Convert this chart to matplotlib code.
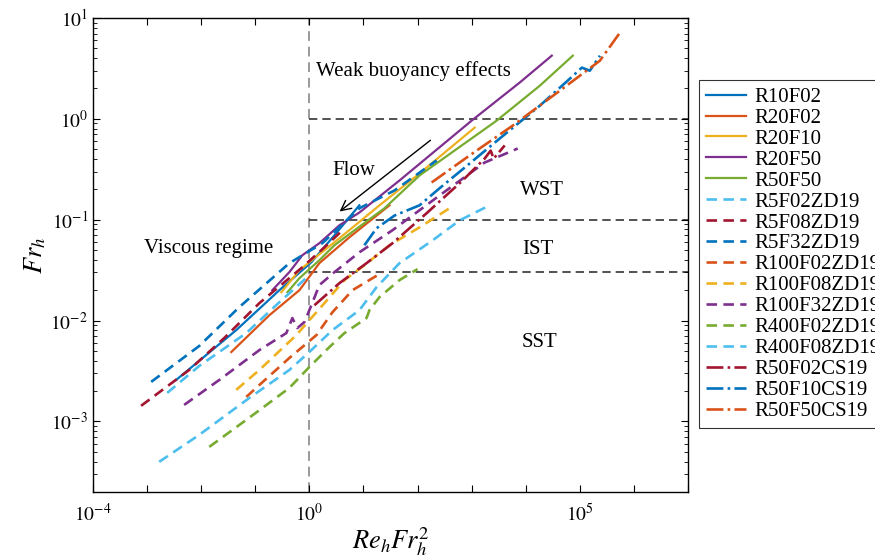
import matplotlib
matplotlib.use('Agg')
import matplotlib.pyplot as plt

plt.rcParams['font.family'] = ['Liberation Serif', 'DejaVu Serif']
plt.rcParams['mathtext.fontset'] = 'stix'

# MATLAB default colours
blue = '#0072BD'
orange = '#D95319'
yellow = '#EDB120'
purple = '#7E2F8E'
green = '#77AC30'
lblue = '#4DBEEE'
dred = '#A2142F'

# ---- data ----
r10f02_x = [3.44e-3, 4.45e-2, 0.278, 1.09, 2.9, 8.4]
r10f02_y = [2.58e-3, 8.05e-3, 2.0e-2, 3.79e-2, 7.0e-2, 0.139]

r20f02_x = [0.036, 0.182, 0.653, 1.53, 5.5, 30.3]
r20f02_y = [4.88e-3, 1.13e-2, 2.0e-2, 3.71e-2, 6.7e-2, 0.139]

r20f10_x = [0.303, 0.653, 3.59, 19.8, 109, 1136]
r20f10_y = [1.91e-2, 3.16e-2, 6.55e-2, 0.139, 0.288, 0.818]

r20f50_x = [0.206, 0.426, 0.742, 1.53, 3.59, 8.43, 46.4, 1000, 7740, 3.03e4]
r20f50_y = [2.0e-2, 3.02e-2, 4.45e-2, 5.85e-2, 8.8e-2, 0.118, 0.245, 0.96, 2.29, 4.23]

r50f50_x = [0.392, 0.653, 1.53, 2.90, 6.81, 24.5, 109, 2900, 1.82e4, 7.42e4]
r50f50_y = [1.91e-2, 2.63e-2, 3.97e-2, 5.58e-2, 7.85e-2, 0.13, 0.275, 0.96, 2.13, 4.23]

r5f02_x = [2.35e-3, 9.18e-3, 0.0681, 0.278, 1.0]
r5f02_y = [1.92e-3, 3.55e-3, 7.52e-3, 1.52e-2, 2.82e-2]

r5f08_x = [7.74e-4, 6.0e-3, 2.67e-2, 0.119, 0.742, 1.90, 4.45]
r5f08_y = [1.43e-3, 3.24e-3, 6.72e-3, 1.49e-2, 3.38e-2, 5.33e-2, 8.22e-2]

r5f32_x = [1.19e-3, 9.18e-3, 5.06e-2, 0.426, 1.74, 8.43, 37.5, 225]
r5f32_y = [2.47e-3, 5.6e-3, 1.36e-2, 3.71e-2, 5.85e-2, 0.13, 0.195, 0.387]

r100f02_x = [6.81e-2, 0.119, 0.426, 1.35, 2.67, 6.25, 22.5]
r100f02_y = [1.75e-3, 2.3e-3, 4.26e-3, 7.18e-3, 1.21e-2, 2.0e-2, 3.02e-2]

r100f08_x = [4.45e-2, 0.119, 0.574, 1.0, 1.90, 4.45, 10.4, 30.3, 109, 391]
r100f08_y = [2.06e-3, 3.24e-3, 7.18e-3, 1.01e-2, 1.49e-2, 2.52e-2, 3.54e-2, 5.58e-2, 8.41e-2, 0.13]

r100f32_x = [4.84e-3, 2.16e-2, 0.119, 0.375, 0.484, 0.6, 0.808, 1.09, 1.53, 2.9, 8.43, 34.4, 255, 1741, 7110]
r100f32_y = [1.46e-3, 2.58e-3, 5.1e-3, 7.52e-3, 1.06e-2, 8.43e-3, 9.66e-3, 1.42e-2, 2.25e-2, 3.02e-2,
             4.76e-2, 7.87e-2, 0.174, 0.369, 0.508]

r400f02_x = [1.41e-2, 7.74e-2, 0.426, 1.0, 2.35, 4.45, 11.4, 12.9, 19.8, 46.4, 100]
r400f02_y = [5.6e-4, 1.09e-3, 2.15e-3, 3.47e-3, 5.47e-3, 7.52e-3, 1.06e-2, 1.27e-2, 1.71e-2, 2.52e-2, 3.24e-2]

r400f08_x = [1.67e-3, 9.18e-3, 7.74e-2, 0.426, 1.0, 2.67, 8.43, 17.4, 46.4, 190, 600, 2154]
r400f08_y = [3.98e-4, 7.36e-4, 1.71e-3, 3.24e-3, 4.89e-3, 8.05e-3, 1.27e-2, 2.14e-2, 3.71e-2,
             6.25e-2, 9.86e-2, 0.139]

r50f02cs_x = [1.24, 3.59, 11.4, 34.4, 147, 681, 1741, 2249, 2553, 4084]
r50f02cs_y = [1.42e-2, 2.35e-2, 3.71e-2, 5.85e-2, 0.116, 0.245, 0.404, 0.484, 0.404, 0.545]

r50f10cs_x = [10.4, 17.4, 37.5, 109, 255, 918, 3300, 1.82e4, 6.53e4, 1.09e5, 1.53e5, 2.35e5]
r50f10cs_y = [5.58e-2, 8.22e-2, 0.11, 0.139, 0.205, 0.361, 0.638, 1.35, 2.5, 3.22, 3.0, 4.23]

r50f50cs_x = [182, 918, 5740, 4.26e4, 2.35e5, 5.5e5]
r50f50cs_y = [0.234, 0.434, 0.857, 1.9, 3.77, 7.14]

fig = plt.figure(figsize=(8.75, 5.58), dpi=100)
ax = fig.add_axes([0.1063, 0.1183, 0.68, 0.8495])

dash = (0, (4, 2.4))
lw_s = 1.6
lw_d = 1.9

ax.plot(r10f02_x, r10f02_y, color=blue, lw=lw_s, label='R10F02')
ax.plot(r20f02_x, r20f02_y, color=orange, lw=lw_s, label='R20F02')
ax.plot(r20f10_x, r20f10_y, color=yellow, lw=lw_s, label='R20F10')
ax.plot(r20f50_x, r20f50_y, color=purple, lw=lw_s, label='R20F50')
ax.plot(r50f50_x, r50f50_y, color=green, lw=lw_s, label='R50F50')
ax.plot(r5f02_x, r5f02_y, color=lblue, lw=lw_d, ls=dash, label='R5F02ZD19')
ax.plot(r5f08_x, r5f08_y, color=dred, lw=lw_d, ls=dash, label='R5F08ZD19')
ax.plot(r5f32_x, r5f32_y, color=blue, lw=lw_d, ls=dash, label='R5F32ZD19')
ax.plot(r100f02_x, r100f02_y, color=orange, lw=lw_d, ls=dash, label='R100F02ZD19')
ax.plot(r100f08_x, r100f08_y, color=yellow, lw=lw_d, ls=dash, label='R100F08ZD19')
ax.plot(r100f32_x, r100f32_y, color=purple, lw=lw_d, ls=dash, label='R100F32ZD19')
ax.plot(r400f02_x, r400f02_y, color=green, lw=lw_d, ls=dash, label='R400F02ZD19')
ax.plot(r400f08_x, r400f08_y, color=lblue, lw=lw_d, ls=dash, label='R400F08ZD19')
ax.plot(r50f02cs_x, r50f02cs_y, color=dred, lw=lw_d, ls='-.', label='R50F02CS19')
ax.plot(r50f10cs_x, r50f10cs_y, color=blue, lw=lw_d, ls='-.', label='R50F10CS19')
ax.plot(r50f50cs_x, r50f50cs_y, color=orange, lw=lw_d, ls='-.', label='R50F50CS19')

# regime boundaries
ax.axvline(1, color='#999999', lw=1.4, ls=(0, (5, 3)), zorder=0)
for yb in [1, 0.1, 0.03]:
    ax.plot([1, 1e7], [yb, yb], color='#333333', lw=1.2, ls=(0, (5, 3)), zorder=0)

ax.set_xscale('log')
ax.set_yscale('log')
ax.set_xlim(1e-4, 1e7)
ax.set_ylim(2e-4, 10)

xt = [10.0 ** k for k in range(-4, 8)]
ax.set_xticks(xt)
ax.set_xticklabels(['$10^{-4}$' if k == -4 else '$10^{0}$' if k == 0 else '$10^{5}$' if k == 5 else ''
                    for k in range(-4, 8)])
ax.xaxis.set_minor_locator(matplotlib.ticker.NullLocator())
ax.set_yticks([1e-3, 1e-2, 1e-1, 1, 10])
ax.set_yticklabels(['$10^{-3}$', '$10^{-2}$', '$10^{-1}$', '$10^{0}$', '$10^{1}$'])
ax.tick_params(which='both', direction='in', top=True, right=True, labelsize=14)
ax.tick_params(which='major', length=5)
ax.tick_params(which='minor', length=3)
ax.tick_params(axis='x', pad=8)
for s in ax.spines.values():
    s.set_linewidth(1.0)

ax.set_xlabel('$Re_hFr_h^2$', fontsize=19, labelpad=0)
ax.set_ylabel('$Fr_h$', fontsize=19, labelpad=2)

ax.text(1.35, 3.0, 'Weak buoyancy effects', fontsize=15, va='center')
ax.text(2.67, 0.307, 'Flow', fontsize=15, va='center')
ax.text(7740, 0.195, 'WST', fontsize=15, va='center')
ax.text(8790, 0.051, 'IST', fontsize=15, va='center')
ax.text(8430, 6.12e-3, 'SST', fontsize=15, va='center')
ax.text(8.8e-4, 0.0521, 'Viscous regime', fontsize=15, va='center')
ax.annotate('', xy=(3.3, 0.116), xytext=(190, 0.638),
            arrowprops=dict(arrowstyle='->', color='black', lw=1.0, mutation_scale=18))

leg = fig.legend(loc='upper left', bbox_to_anchor=(699 / 875, 1 - 80 / 558), fontsize=15,
                 frameon=True, fancybox=False, edgecolor='black', handlelength=1.9,
                 labelspacing=0.065, borderpad=0.35, handletextpad=0.4, borderaxespad=0)
leg.get_frame().set_linewidth(0.8)

fig.savefig('out.png', dpi=100)
